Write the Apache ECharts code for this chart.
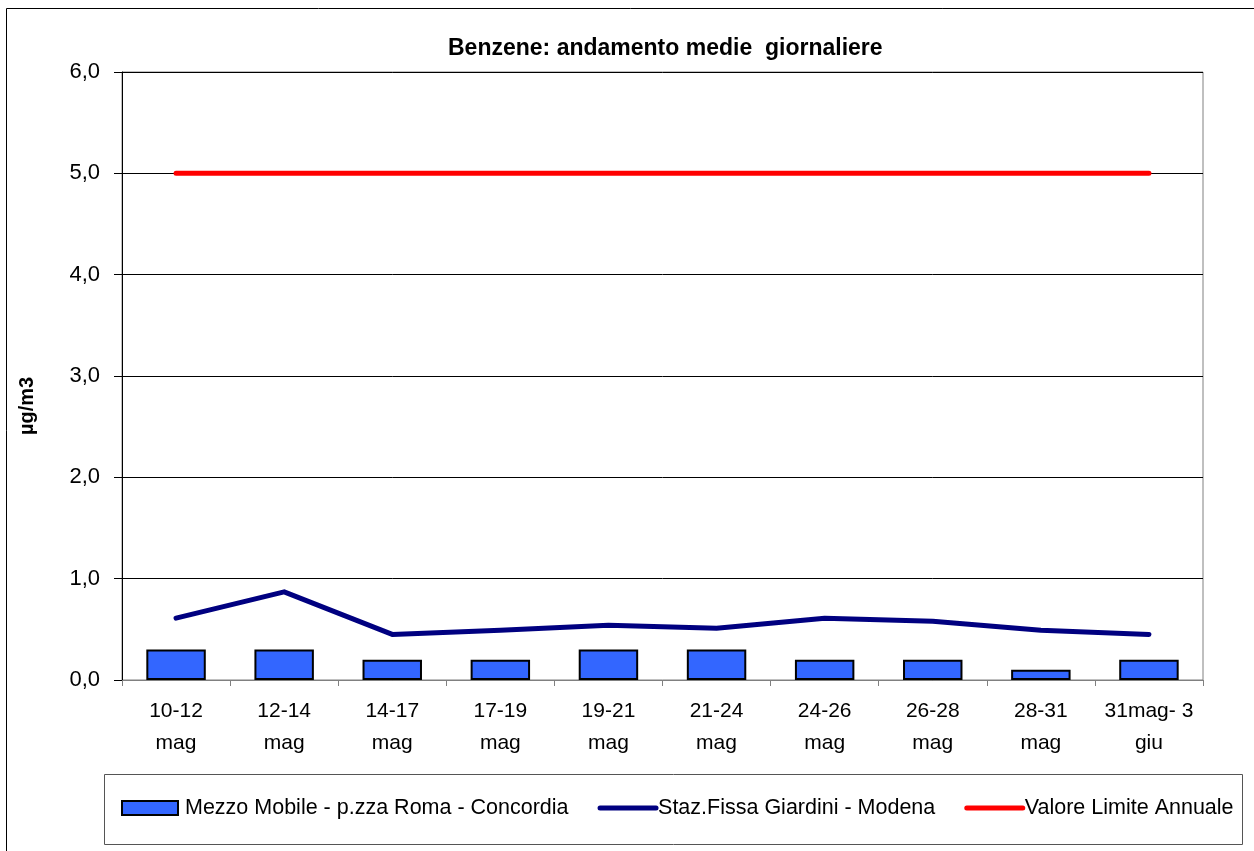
<!DOCTYPE html>
<html>
<head>
<meta charset="utf-8">
<script src="https://cdn.jsdelivr.net/npm/echarts@6/dist/echarts.min.js"></script>
<style>
  html, body { margin: 0; padding: 0; background: #fff; }
  #chart { width: 1254px; height: 851px; }
</style>
</head>
<body>
<div id="chart"></div>
<script>
// periodi di campionamento
const categories = ['10-12\nmag', '12-14\nmag', '14-17\nmag', '17-19\nmag', '19-21\nmag',
  '21-24\nmag', '24-26\nmag', '26-28\nmag', '28-31\nmag', '31mag- 3\ngiu']
const mezzoMobile = [0.3, 0.3, 0.2, 0.2, 0.3, 0.3, 0.2, 0.2, 0.1, 0.2]
const stazFissa = [0.61, 0.87, 0.45, 0.49, 0.54, 0.51, 0.61, 0.58, 0.49, 0.45]
const valoreLimite = [5, 5, 5, 5, 5, 5, 5, 5, 5, 5]

const myChart = echarts.init(document.getElementById('chart'))
const font = 'Liberation Sans, Arial, sans-serif'

const option = {
  animation: false,
  textStyle: { fontFamily: font },
  title: {
    text: 'Benzene: andamento medie  giornaliere',
    left: 443,
    top: 32,
    textStyle: { fontSize: 23, fontWeight: 'bold', color: '#000', fontFamily: font }
  },
  graphic: [
    {
      type: 'rect',
      shape: { x: 6.5, y: 8.5, width: 1400, height: 1000 },
      style: { fill: 'none', stroke: '#000', lineWidth: 1 },
      silent: true
    },
    {
      type: 'rect',
      shape: { x: 104.5, y: 774.5, width: 1138, height: 70 },
      style: { fill: 'none', stroke: '#555', lineWidth: 1 },
      silent: true
    },
    {
      type: 'text',
      x: 27,
      y: 406,
      rotation: Math.PI / 2,
      style: {
        text: 'µg/m3',
        font: 'bold 20px ' + font,
        fill: '#000',
        align: 'center',
        verticalAlign: 'middle'
      },
      silent: true
    }
  ],
  legend: {
    left: 116,
    top: 792,
    itemGap: 29,
    itemWidth: 56,
    itemHeight: 14,
    lineStyle: { width: 5, cap: 'round' },
    textStyle: { fontSize: 21.5, color: '#000', fontFamily: font },
    data: [
      { name: 'Mezzo Mobile - p.zza Roma - Concordia', icon: 'rect', textStyle: { padding: [0, 0, 0, 2] } },
      { name: 'Staz.Fissa Giardini - Modena', itemStyle: { opacity: 0 }, textStyle: { padding: [0, 0, 0, -3] } },
      { name: 'Valore Limite Annuale', itemStyle: { opacity: 0 }, textStyle: { padding: [0, 0, 0, -3] } }
    ]
  },
  grid: {
    left: 122,
    right: 51,
    top: 72,
    bottom: 171,
    show: true,
    borderColor: '#808080',
    borderWidth: 1
  },
  xAxis: {
    type: 'category',
    data: categories,
    boundaryGap: true,
    axisLine: { lineStyle: { color: '#808080', width: 1 } },
    axisTick: { show: true, length: 6, interval: 0, lineStyle: { color: '#808080' } },
    axisLabel: {
      interval: 0,
      color: '#000',
      fontSize: 21,
      lineHeight: 32,
      margin: 15,
      fontFamily: font
    }
  },
  yAxis: {
    type: 'value',
    min: 0,
    max: 6,
    interval: 1,
    axisLine: { show: true, lineStyle: { color: '#000', width: 1 } },
    axisTick: { show: true, length: 8, lineStyle: { color: '#000' } },
    axisLabel: {
      color: '#000',
      fontSize: 22,
      margin: 22,
      fontFamily: font,
      formatter: v => v.toFixed(1).replace('.', ',')
    },
    splitLine: { show: true, lineStyle: { color: '#000', width: 1 } }
  },
  series: [
    {
      name: 'Mezzo Mobile - p.zza Roma - Concordia',
      type: 'bar',
      data: mezzoMobile,
      barWidth: '55%',
      itemStyle: { color: '#3366FF', borderColor: '#000', borderWidth: 2 }
    },
    {
      name: 'Staz.Fissa Giardini - Modena',
      type: 'line',
      data: stazFissa,
      symbol: 'none',
      lineStyle: { color: '#000080', width: 5, cap: 'round', join: 'round' },
      itemStyle: { color: '#000080' }
    },
    {
      name: 'Valore Limite Annuale',
      type: 'line',
      data: valoreLimite,
      symbol: 'none',
      lineStyle: { color: '#FF0000', width: 5, cap: 'round' },
      itemStyle: { color: '#FF0000' }
    }
  ]
}

myChart.setOption(option)
</script>
</body>
</html>
